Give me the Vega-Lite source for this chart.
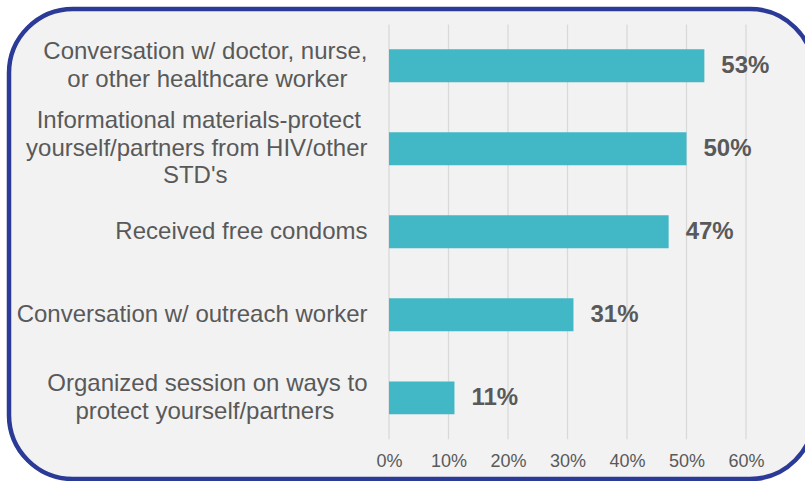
{
  "$schema": "https://vega.github.io/schema/vega-lite/v6.json",
  "width": 805,
  "height": 470,
  "autosize": {"type": "none"},
  "padding": {"left": 9, "top": 9, "right": -9, "bottom": 2},
  "background": "#FFFFFF",
  "config": {
    "view": {"fill": "#F2F2F2", "stroke": "#2A3A96", "strokeWidth": 4.5, "cornerRadius": 64},
    "font": "Liberation Sans"
  },
  "title": {
    "text": "12 months , SFAHMI , 2015-2016",
    "font": "Liberation Sans",
    "fontSize": 28,
    "fontWeight": "bold",
    "color": "#2A3A96",
    "anchor": "middle",
    "baseline": "bottom",
    "frame": "group",
    "offset": 0,
    "dy": 0
  },
  "datasets": {
    "bars": [
      {"category": "Conversation w/ doctor, nurse, or other healthcare worker", "value": 0.53},
      {"category": "Informational materials-protect yourself/partners from HIV/other STD's", "value": 0.50},
      {"category": "Received free condoms", "value": 0.47},
      {"category": "Conversation w/ outreach worker", "value": 0.31},
      {"category": "Organized session on ways to protect yourself/partners", "value": 0.11}
    ],
    "grid": [
      {"tick": 0}, {"tick": 0.1}, {"tick": 0.2}, {"tick": 0.3}, {"tick": 0.4}, {"tick": 0.5}, {"tick": 0.6}
    ]
  },
  "resolve": {"scale": {"y": "independent"}, "axis": {"y": "independent"}},
  "layer": [
    {
      "data": {"name": "grid"},
      "mark": {"type": "rule", "color": "#D9D9D9", "strokeWidth": 1.3},
      "encoding": {
        "x": {"field": "tick", "type": "quantitative", "scale": {"domain": [-0.6387, 0.7143], "nice": false, "zero": false}},
        "y": {"datum": 0, "type": "quantitative", "scale": {"domain": [-0.096, 1.0371], "nice": false, "zero": false}, "axis": null},
        "y2": {"datum": 1}
      }
    },
    {
      "data": {"name": "bars"},
      "encoding": {
        "y": {
          "field": "category",
          "type": "nominal",
          "sort": null,
          "scale": {"paddingInner": 0.603, "paddingOuter": 0.632, "align": 0.384},
          "axis": {
            "orient": "left",
            "offset": -380,
            "title": null,
            "ticks": false,
            "tickSize": 0,
            "domain": false,
            "grid": false,
            "labelPadding": 22,
            "labelFont": "Liberation Sans",
            "labelFontSize": 24,
            "labelColor": "#595959",
            "labelLineHeight": 27.5,
            "labelLimit": 0,
            "labelAlign": "right",
            "labelBaseline": "middle",
            "labelOffset": {
              "condition": [
                {"test": "indexof(datum.value, 'STD') >= 0", "value": -27.5},
                {"test": "indexof(datum.value, 'healthcare') >= 0 || indexof(datum.value, 'Organized') >= 0", "value": -13.75}
              ],
              "value": 0
            },
            "labelExpr": "datum.value == 'Conversation w/ doctor, nurse, or other healthcare worker' ? ['Conversation w/ doctor, nurse,', 'or other healthcare worker\u00a0\u00a0\u00a0\u200b'] : datum.value == \"Informational materials-protect yourself/partners from HIV/other STD's\" ? ['Informational materials-protect\u00a0\u200b', 'yourself/partners from HIV/other', \"STD's\u00a0\u00a0\u00a0\u00a0\u00a0\u00a0\u00a0\u00a0\u00a0\u00a0\u00a0\u00a0\u00a0\u00a0\u00a0\u00a0\u00a0\u00a0\u00a0\u00a0\u00a0\u200b\"] : datum.value == 'Organized session on ways to protect yourself/partners' ? ['Organized session on ways to', 'protect yourself/partners\u00a0\u00a0\u00a0\u00a0\u00a0\u200b'] : datum.value"
          }
        }
      },
      "layer": [
        {
          "mark": {"type": "bar", "color": "#42B7C6"},
          "encoding": {
            "x": {
              "field": "value",
              "type": "quantitative",
              "axis": {
                "orient": "bottom",
                "offset": -39.8,
                "values": [0, 0.1, 0.2, 0.3, 0.4, 0.5, 0.6],
                "format": ".0%",
                "title": null,
                "ticks": false,
                "tickSize": 0,
                "domain": false,
                "grid": false,
                "labelPadding": 13,
                "labelFont": "Liberation Sans",
                "labelFontSize": 18,
                "labelColor": "#595959"
              }
            },
            "x2": {"datum": 0}
          }
        },
        {
          "mark": {"type": "text", "align": "left", "baseline": "middle", "dx": 17, "font": "Liberation Sans", "fontSize": 24, "fontWeight": "bold", "color": "#595959"},
          "encoding": {
            "x": {"field": "value", "type": "quantitative"},
            "text": {"field": "value", "type": "quantitative", "format": ".0%"}
          }
        }
      ]
    }
  ]
}
